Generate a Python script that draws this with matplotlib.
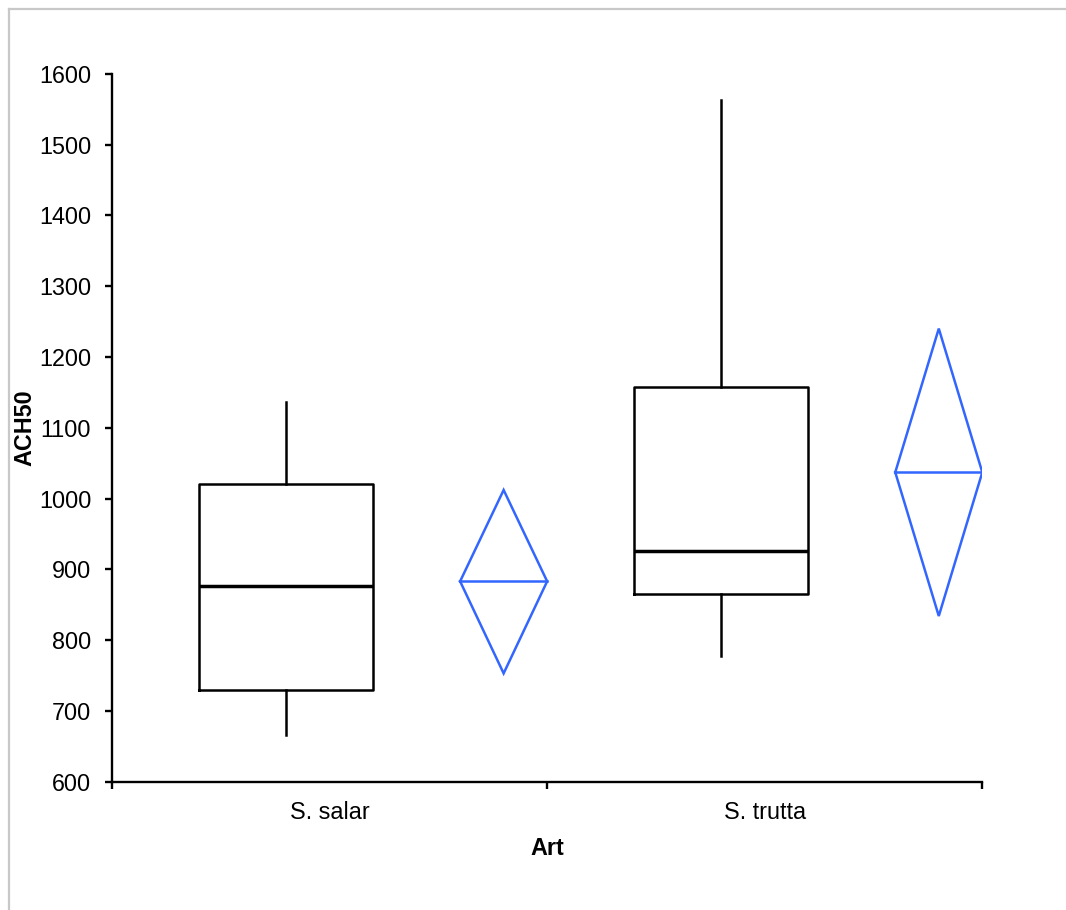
import numpy as np
import matplotlib
matplotlib.use("Agg")
import matplotlib.pyplot as plt
from matplotlib.lines import Line2D

plt.rcParams['font.family'] = ['Liberation Sans', 'DejaVu Sans']

# data
categories = ["S. salar", "S. trutta"]
whislo = [666, 777]
q1 = [730, 865]
med = [877, 926]
q3 = [1020, 1157]
whishi = [1136, 1563]
# mean diamonds (mean and interval)
mean = [883, 1037]
ci_lo = [753, 834]
ci_hi = [1012, 1240]

yticks = [600, 700, 800, 900, 1000, 1100, 1200, 1300, 1400, 1500, 1600]

fs = 16.8

fig = plt.figure(figsize=(10.66, 9.10), dpi=100)
ax = fig.add_axes([112/1066, 1-781.7/910, (982.3-112)/1066, (781.7-73.7)/910])

pos = np.arange(len(categories))
box_pos = pos + 0.4
dia_pos = pos + 0.9

stats = []
for i in range(len(categories)):
    stats.append(dict(med=med[i], q1=q1[i], q3=q3[i], whislo=whislo[i], whishi=whishi[i], fliers=[]))

ax.bxp(stats, positions=box_pos, widths=0.4, showcaps=False, showfliers=False,
       boxprops=dict(color='black', linewidth=1.8),
       whiskerprops=dict(color='black', linewidth=1.8),
       medianprops=dict(color='black', linewidth=2.5))

# mean diamonds
blue = '#3366ff'
hw = 0.1
for i in range(len(categories)):
    xc = dia_pos[i]
    ax.plot([xc - hw, xc, xc + hw, xc, xc - hw], [mean[i], ci_hi[i], mean[i], ci_lo[i], mean[i]],
            color=blue, linewidth=1.8, solid_joinstyle='miter')
    ax.plot([xc - hw, xc + hw], [mean[i], mean[i]], color=blue, linewidth=1.8)

ax.set_xlim(0, 2)
ax.set_ylim(600, 1600)
ax.set_yticks(yticks)
ax.set_xticks([0, 1, 2])
ax.set_xticklabels([])
ax.set_xticks(pos + 0.5, minor=True)
ax.set_xticklabels(categories, minor=True)

ax.spines['top'].set_visible(False)
ax.spines['right'].set_visible(False)
ax.spines['left'].set_linewidth(1.7)
ax.spines['bottom'].set_linewidth(1.7)
ax.tick_params(axis='y', which='major', length=5, width=1.7, labelsize=fs, pad=10)
ax.tick_params(axis='x', which='major', length=5, width=1.7)
ax.tick_params(axis='x', which='minor', length=0, labelsize=fs, pad=14)

ax.set_xlabel('Art', fontsize=fs, fontweight='bold', labelpad=9)
ax.set_ylabel('ACH50', fontsize=fs, fontweight='bold')
ax.yaxis.set_label_coords(-(112-36)/870.3, 0.5)

# light grey chart frame (top and left edges visible)
fig.add_artist(Line2D([9/1066, 1], [1-8.5/910, 1-8.5/910], color='#c8c8c8', linewidth=1.6))
fig.add_artist(Line2D([9/1066, 9/1066], [0, 1-8.5/910], color='#c8c8c8', linewidth=1.6))

fig.savefig('out.png', dpi=100)
